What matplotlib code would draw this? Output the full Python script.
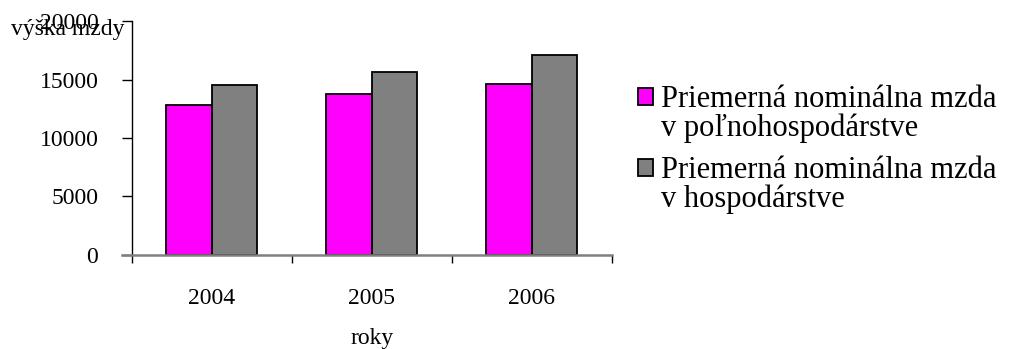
import numpy as np
import matplotlib.pyplot as plt
from matplotlib.patches import Rectangle
from matplotlib.container import BarContainer
from matplotlib.legend_handler import HandlerPatch

roky = ['2004', '2005', '2006']
mzda_polnohosp = [12800, 13780, 14660]
mzda_hosp = [14550, 15640, 17130]
nazvy = ['Priemerná nominálna mzda\nv poľnohospodárstve',
         'Priemerná nominálna mzda\nv hospodárstve']

plt.rcParams['font.family'] = ['Liberation Serif', 'DejaVu Serif']


def stvorcek_hore(legend, orig_handle, xdescent, ydescent, width, height,
                  fontsize):
    # stvorcek zarovnany k prvemu riadku popisu
    return Rectangle((-xdescent, -ydescent + 0.58 * fontsize), width, height)


class StvorcekHandler(HandlerPatch):
    def update_prop(self, legend_handle, orig_handle, legend):
        super().update_prop(legend_handle, orig_handle[0], legend)


fig = plt.figure(figsize=(10.17, 3.49), dpi=100)
ax = fig.add_axes([0.1295, 0.2702, 0.472, 0.669])

x = np.arange(len(roky))
w = 0.284
ax.bar(x - w / 2, mzda_polnohosp, w, color='#ff00ff', edgecolor='black',
       linewidth=1.3, label=nazvy[0])
ax.bar(x + w / 2, mzda_hosp, w, color='#808080', edgecolor='black',
       linewidth=1.3, label=nazvy[1])

ax.set_xlim(-0.5, len(roky) - 0.5)
ax.set_ylim(0, 20000)
ax.set_yticks(np.arange(0, 20001, 5000))

# hlavne ciarky medzi rokmi, popisy v strede skupin
ax.set_xticks(np.arange(-0.5, len(roky), 1.0))
ax.set_xticklabels([])
ax.set_xticks(x, minor=True)
ax.set_xticklabels(roky, minor=True)
ax.tick_params(axis='x', which='major', length=5.5, width=1, direction='out')
ax.tick_params(axis='x', which='minor', length=0, pad=24, labelsize=17)
ax.tick_params(axis='y', length=7, width=1, direction='out', pad=17,
               labelsize=17)

for s in ['top', 'right']:
    ax.spines[s].set_visible(False)
ax.spines['left'].set_linewidth(1)
ax.spines['bottom'].set_color('#808080')
ax.spines['bottom'].set_linewidth(1.8)
ax.spines['bottom'].set_bounds(-0.56, len(roky) - 0.5)

fig.text(0.067, 0.915, 'výška mzdy', fontsize=17, ha='center', va='center')
fig.text(0.3655, 0.03, 'roky', fontsize=17, ha='center', va='center')

leg = ax.legend(loc='upper left', bbox_to_anchor=(1.03, 0.78), frameon=False,
                fontsize=22, handlelength=0.47, handleheight=0.47,
                handletextpad=0.28, labelspacing=0.45, borderaxespad=0,
                handler_map={BarContainer: StvorcekHandler(patch_func=stvorcek_hore)})
for t in leg.get_texts():
    t.set_linespacing(0.97)

fig.savefig('out.png', dpi=100)
